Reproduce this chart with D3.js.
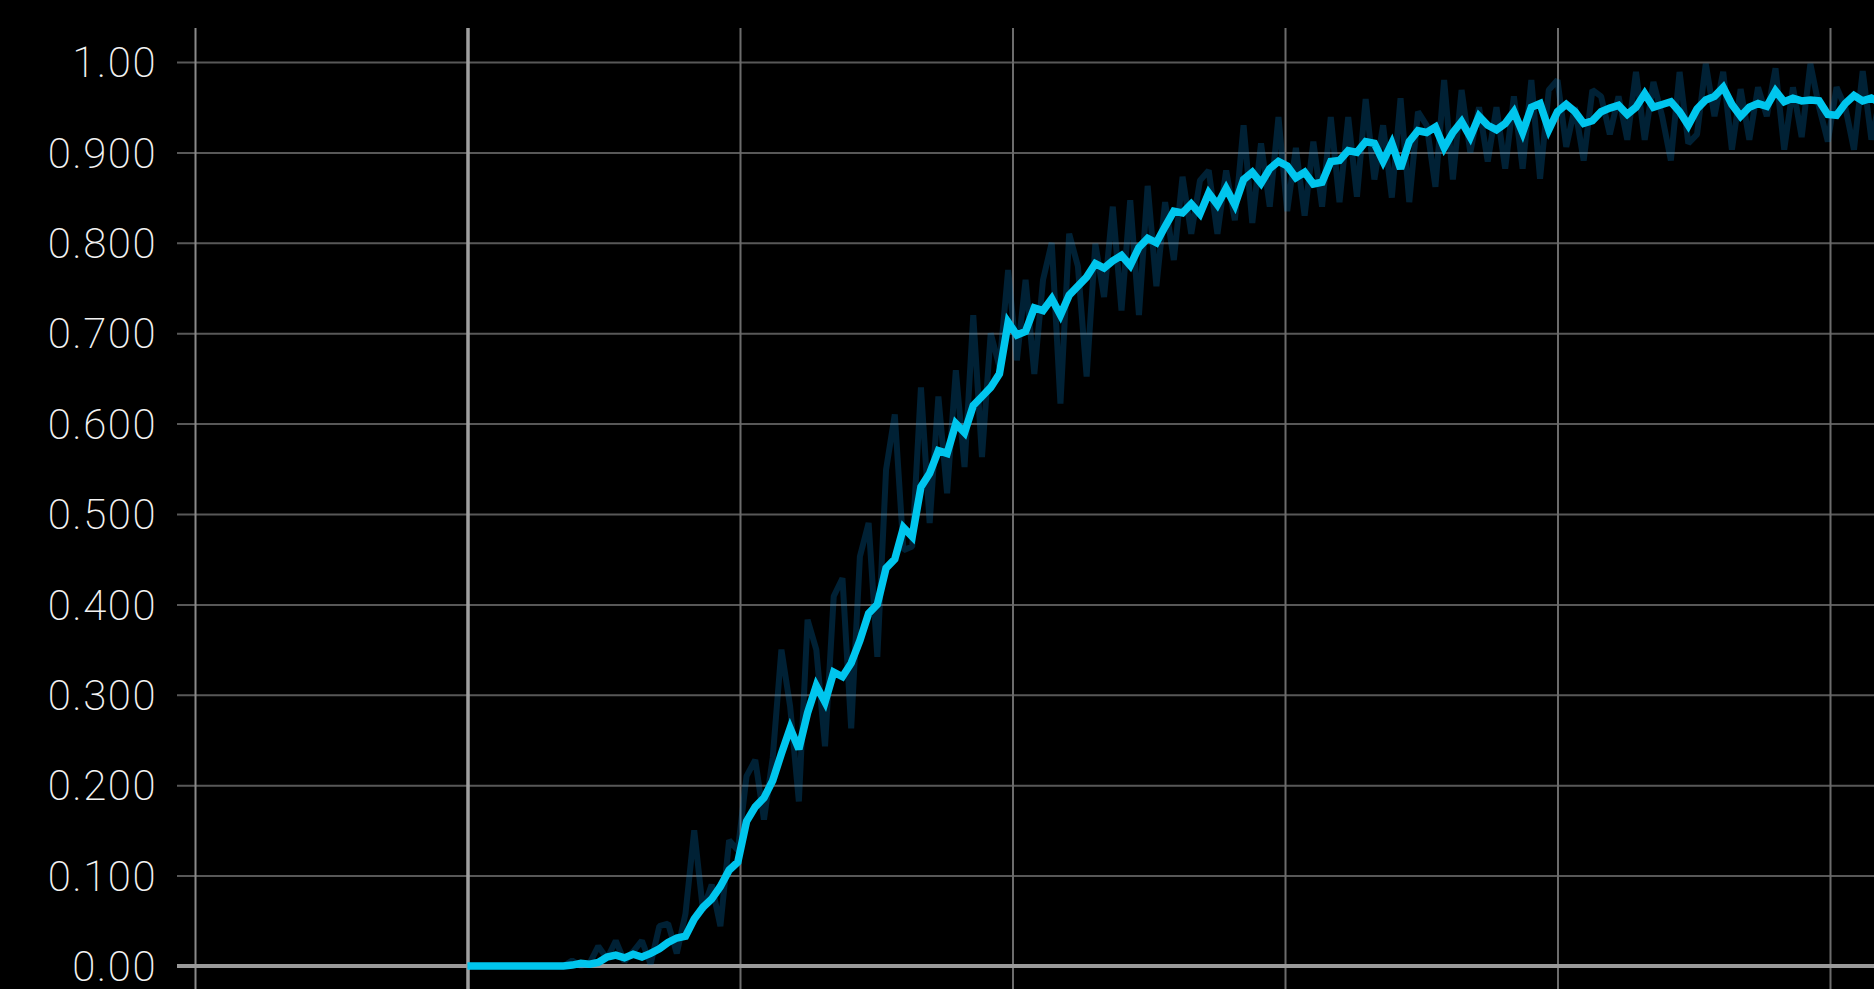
<!DOCTYPE html>
<html>
<head>
<meta charset="utf-8">
<script src="https://cdn.jsdelivr.net/npm/d3@7"></script>
<style>
    html, body { margin: 0; padding: 0; background: #000; overflow: hidden; }
    #chart { width: 1874px; height: 989px; }
</style>
</head>
<body>
<div id="chart"></div>
<script>
// vertical grid positions (training steps) and y ticks
const gridSteps = [-1000, 0, 1000, 2000, 3000, 4000, 5000];
const yTickValues = [0, 0.1, 0.2, 0.3, 0.4, 0.5, 0.6, 0.7, 0.8, 0.9, 1.0];
const yTickLabels = ["0.00", "0.100", "0.200", "0.300", "0.400", "0.500", "0.600", "0.700", "0.800", "0.900", "1.00"];

// one value every 32 steps, starting at step 0
const stepInterval = 32;

const smoothValues = [
    0, 0, 0, 0, 0, 0, 0, 0, 0, 0, 0, 0,
    0.001, 0.003, 0.002, 0.004, 0.010, 0.012, 0.009, 0.013, 0.010, 0.014,
    0.019, 0.026, 0.031, 0.033, 0.052, 0.065, 0.074, 0.088, 0.106, 0.115,
    0.160, 0.176, 0.186, 0.205, 0.235, 0.263, 0.240, 0.280, 0.310, 0.292,
    0.325, 0.320, 0.335, 0.360, 0.390, 0.400, 0.440, 0.450, 0.485, 0.475,
    0.530, 0.545, 0.570, 0.567, 0.600, 0.590, 0.620, 0.630, 0.640, 0.655,
    0.712, 0.698, 0.702, 0.728, 0.725, 0.738, 0.720, 0.742, 0.752, 0.762,
    0.777, 0.772, 0.780, 0.786, 0.775, 0.795, 0.805, 0.800, 0.818, 0.835,
    0.833, 0.843, 0.832, 0.855, 0.842, 0.860, 0.842, 0.870, 0.878, 0.866,
    0.882, 0.890, 0.885, 0.872, 0.878, 0.865, 0.867, 0.890, 0.891, 0.902,
    0.900, 0.912, 0.910, 0.890, 0.910, 0.882, 0.912, 0.924, 0.922, 0.928,
    0.905, 0.922, 0.934, 0.917, 0.940, 0.930, 0.925, 0.932, 0.945, 0.922,
    0.950, 0.954, 0.925, 0.945, 0.953, 0.945, 0.932, 0.935, 0.945, 0.949,
    0.952, 0.942, 0.950, 0.965, 0.950, 0.953, 0.956, 0.945, 0.930, 0.948,
    0.958, 0.962, 0.972, 0.953, 0.940, 0.950, 0.954, 0.951, 0.968, 0.956,
    0.960, 0.957, 0.958, 0.957, 0.942, 0.941, 0.954, 0.963, 0.957, 0.960,
    0.955
];

const rawValues = [
    0, 0, 0, 0, 0, 0, 0, 0, 0, 0, 0, 0,
    0.006, 0.000, 0.003, 0.022, 0.008, 0.028, 0.005, 0.016, 0.028, 0.002,
    0.044, 0.047, 0.014, 0.058, 0.150, 0.062, 0.090, 0.044, 0.139, 0.128,
    0.210, 0.228, 0.162, 0.230, 0.350, 0.287, 0.182, 0.383, 0.350, 0.243,
    0.409, 0.429, 0.263, 0.453, 0.490, 0.342, 0.549, 0.610, 0.460, 0.464,
    0.640, 0.490, 0.630, 0.523, 0.659, 0.552, 0.720, 0.563, 0.700, 0.663,
    0.770, 0.670, 0.759, 0.655, 0.759, 0.800, 0.622, 0.810, 0.774, 0.652,
    0.799, 0.740, 0.840, 0.725, 0.847, 0.720, 0.863, 0.752, 0.845, 0.781,
    0.873, 0.810, 0.869, 0.880, 0.810, 0.880, 0.825, 0.930, 0.822, 0.910,
    0.840, 0.939, 0.835, 0.905, 0.830, 0.912, 0.840, 0.939, 0.845, 0.939,
    0.851, 0.959, 0.870, 0.930, 0.850, 0.960, 0.845, 0.945, 0.930, 0.862,
    0.980, 0.870, 0.969, 0.900, 0.950, 0.890, 0.950, 0.882, 0.962, 0.882,
    0.980, 0.871, 0.969, 0.980, 0.906, 0.950, 0.891, 0.969, 0.962, 0.920,
    0.962, 0.914, 0.989, 0.914, 0.978, 0.940, 0.891, 0.989, 0.910, 0.920,
    0.998, 0.940, 0.989, 0.903, 0.970, 0.914, 0.972, 0.940, 0.993, 0.903,
    0.972, 0.917, 0.998, 0.950, 0.912, 0.972, 0.950, 0.903, 0.990, 0.914,
    0.960
];

class AccuracyChart {

    constructor (smooth, raw) {

        this.smooth = smooth;
        this.raw = raw;

        this.width = 1874;
        this.height = 989;
        this.margin = {top: 28, left: 177, labelGap: 20};

        this.svg = d3.select("#chart").append("svg")
            .attr("width", this.width)
            .attr("height", this.height)
            .style("background", "#000");

        this.xScale = d3.scaleLinear()
            .domain([-1000, 5000])
            .range([195, 1830]);

        this.yScale = d3.scaleLinear()
            .domain([0, 1])
            .range([966, 62]);

        this.drawGrid();
        this.drawLines();
        this.drawLabels();
    };

    drawGrid () {

        let self = this;

        let yGrid = this.svg.append("g")
            .attr("class", "grid grid--y")
            .attr("transform", "translate(" + this.margin.left + ",0)")
            .call(d3.axisLeft(this.yScale)
                .tickValues(yTickValues)
                .tickSize(-(this.width - this.margin.left))
                .tickFormat(""));

        yGrid.select(".domain").remove();
        yGrid.selectAll(".tick line")
            .attr("stroke", "#585858")
            .attr("stroke-width", 2);

        let xGrid = this.svg.append("g")
            .attr("class", "grid grid--x")
            .attr("transform", "translate(0," + this.height + ")")
            .call(d3.axisBottom(this.xScale)
                .tickValues(gridSteps)
                .tickSize(-(this.height - this.margin.top))
                .tickFormat(""));

        xGrid.select(".domain").remove();
        xGrid.selectAll(".tick line")
            .attr("stroke", function(d){
                if(d == 0) return "#a0a0a0";
                if(d == -1000) return "#8a8a8a";
                return "#6c6c6c";
            })
            .attr("stroke-width", function(d){
                return d == 0 ? 3.5 : 2;
            });

        // zero baseline is heavier than the rest
        this.svg.append("line")
            .attr("class", "baseline")
            .attr("x1", this.margin.left)
            .attr("x2", this.width)
            .attr("y1", self.yScale(0))
            .attr("y2", self.yScale(0))
            .attr("stroke", "#9a9a9a")
            .attr("stroke-width", 4);
    };

    drawLines () {

        let self = this;

        let line = d3.line()
            .x(function(d, i){ return self.xScale(i * stepInterval); })
            .y(function(d){ return self.yScale(d); });

        // raw values: faint band behind the smoothed curve
        this.svg.append("path")
            .datum(this.raw)
            .attr("class", "raw")
            .attr("fill", "none")
            .attr("stroke", "rgb(0,140,220)")
            .attr("stroke-opacity", 0.24)
            .attr("stroke-width", 6)
            .attr("stroke-linejoin", "bevel")
            .attr("d", line);

        this.svg.append("path")
            .datum(this.smooth)
            .attr("class", "smoothed")
            .attr("fill", "none")
            .attr("stroke", "#00c6ee")
            .attr("stroke-width", 7.5)
            .attr("stroke-linejoin", "miter")
            .attr("stroke-miterlimit", 3)
            .attr("d", line);
    };

    drawLabels () {

        let labels = this.svg.append("g")
            .attr("class", "axis axis--y")
            .attr("transform", "translate(" + this.margin.left + ",0)")
            .call(d3.axisLeft(this.yScale)
                .tickValues(yTickValues)
                .tickSize(0)
                .tickPadding(this.margin.labelGap)
                .tickFormat(function(d, i){ return yTickLabels[i]; }));

        labels.select(".domain").remove();
        labels.selectAll(".tick text")
            .attr("fill", "#f2f2f2")
            .attr("font-family", "Roboto, 'Open Sans', 'DejaVu Sans', sans-serif")
            .attr("font-weight", 200)
            .attr("font-size", 42)
            .attr("letter-spacing", 1.5)
            .attr("dy", "0.35em");
    };
};

new AccuracyChart(smoothValues, rawValues);
</script>
</body>
</html>
